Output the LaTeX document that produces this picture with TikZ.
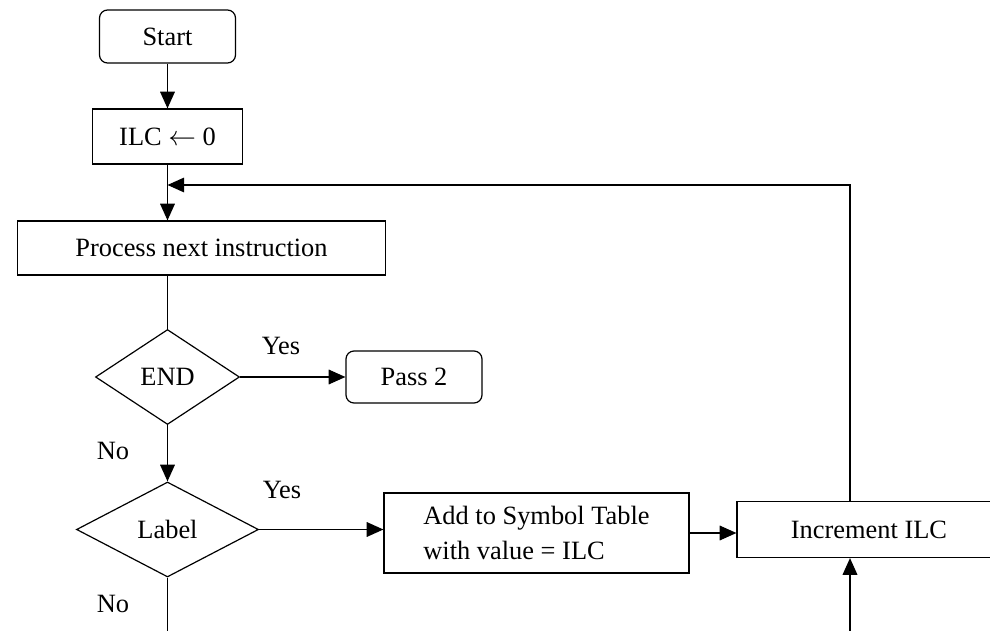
\documentclass[tikz,border=0pt]{standalone}
\usepackage{fontspec}
\setmainfont{Liberation Serif}
\usetikzlibrary{shapes.geometric,arrows.meta}
\begin{document}
\begin{tikzpicture}[x=0.75pt,y=-0.75pt,
  every node/.style={font=\fontsize{19.8pt}{26pt}\selectfont, inner sep=0pt},
  box/.style={draw, line width=0.9pt, rectangle},
  rbox/.style={box, rounded corners=6pt},
  dec/.style={draw, line width=0.9pt, diamond},
  conn/.style={line width=0.9pt, -{Triangle[length=12.5pt,width=11pt]}},
  plain/.style={line width=0.9pt}]
\useasboundingbox (0,0) rectangle (990,631);
\clip (0,0) rectangle (990,631);
\node[rbox, minimum width=136*0.75pt, minimum height=53*0.75pt] (start) at (167.5,36.5) {Start};
\node[box, minimum width=150*0.75pt, minimum height=55*0.75pt] (ilc) at (167.5,136.5) {ILC $\leftarrow$ 0};
\node[box, minimum width=368*0.75pt, minimum height=54*0.75pt] (proc) at (201.5,248) {Process next instruction};
\node[dec, minimum width=144*0.75pt, minimum height=95*0.75pt] (endd) at (167.5,377) {END};
\node[rbox, minimum width=136*0.75pt, minimum height=52*0.75pt] (pass) at (414,377) {Pass 2};
\node[dec, minimum width=182*0.75pt, minimum height=95*0.75pt] (lab) at (167.5,529.5) {Label};
\node[box, minimum width=305*0.75pt, minimum height=80*0.75pt, align=left] (add) at (536.5,533) {Add to Symbol Table\\with value = ILC};
\node[box, minimum width=264*0.75pt, minimum height=56*0.75pt] (inc) at (869,529.5) {Increment ILC};
\node (yes1) at (281,346) {Yes};
\node (no1) at (113,451) {No};
\node (yes2) at (282,490) {Yes};
\node (no2) at (113,604) {No};
\coordinate (join) at (167.5,185);
\coordinate (fb) at (850,185);
\coordinate (bl) at (167.5,640);
\coordinate (br) at (850,640);
\draw[conn] (start) -- (ilc);
\draw[plain] (ilc.south) -- (join);
\draw[conn] (join) -- (join |- proc.north);
\draw[conn] (inc.north -| fb) -- (fb) -- (join);
\draw[plain] (proc.south -| endd.north) -- (endd.north);
\draw[conn] (endd.east) -- (endd.east -| pass.west);
\draw[conn] (endd.south) -- (lab.north);
\draw[conn] (lab.east) -- (lab.east -| add.west);
\draw[conn] (add.east) -- (add.east -| inc.west);
\draw[plain] (lab.south) -- (bl);
\draw[conn] (br) -- (br |- inc.south);
\end{tikzpicture}
\end{document}
